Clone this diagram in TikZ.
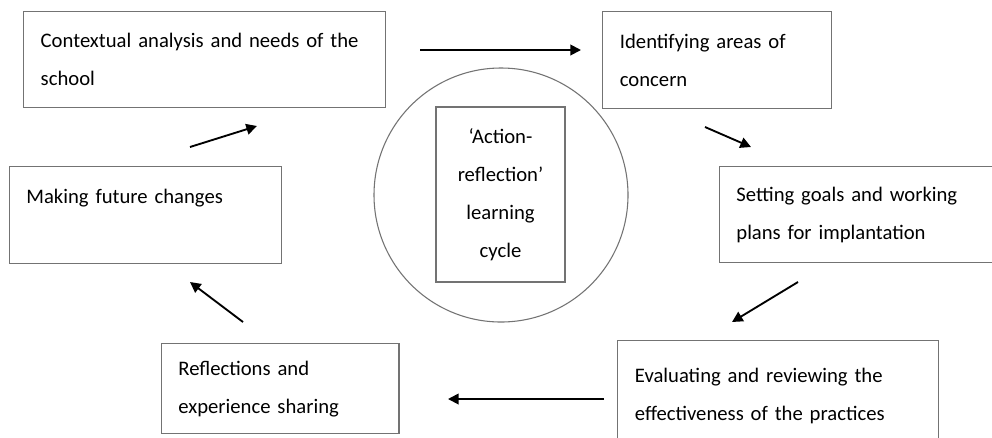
\documentclass[tikz,border=0pt]{standalone}
\usepackage{fontspec}
\setmainfont{Carlito}[WordSpace=0.5]
\usepackage{tikz}
\usetikzlibrary{positioning,arrows.meta}
\usepackage{xcolor}
\colorlet{edgegray}{black!55}
\colorlet{inkgray}{black}
\tikzstyle{stage}=[draw=edgegray,line width=1.1pt,rectangle,anchor=north west,align=left,inner xsep=12.5pt,inner ysep=0pt,text=inkgray,font=\fontsize{15.5}{28.5}\selectfont]
\tikzstyle{step arrow}=[line width=1.4pt,-{Triangle[length=8pt,width=8pt]}]

\begin{document}
\begin{tikzpicture}[x=0.75pt,y=-0.75pt]

	\clip (0,0) rectangle (992,437);
	\fill[white] (0,0) rectangle (992,437);

	% the six stages of the cycle
	\node[stage, minimum width=362*0.75pt, minimum height=96*0.75pt, text width=246pt] (ctx) at (23,11) {Contextual analysis and needs of the\\school};
	\node[stage, minimum width=229*0.75pt, minimum height=97*0.75pt, text width=146pt] (ident) at (602,11) {Identifying areas of\\concern};
	\node[stage, minimum width=300*0.75pt, minimum height=96*0.75pt, text width=200pt] (goals) at (719,166) {Setting goals and working\\plans for implantation};
	\node[stage, minimum width=321*0.75pt, minimum height=110*0.75pt, text width=215pt] (eval) at (617,340) {Evaluating and reviewing the\\effectiveness of the practices};
	\node[stage, minimum width=237*0.75pt, minimum height=90*0.75pt, text width=153pt] (refl) at (161,343) {Reflections and\\experience sharing};
	\node[stage, minimum width=272*0.75pt, minimum height=97*0.75pt, text width=179pt] (chg) at (9,166) {Making future changes\\~};

	% centre of the cycle
	\node[circle, draw=edgegray, line width=0.8pt, minimum size=254*0.75pt, inner sep=0pt] (hub) at (501,195) {};
	\node[stage, anchor=center, align=center, inner xsep=0pt, minimum width=129*0.75pt, minimum height=175*0.75pt, text width=129*0.75pt] (core) at (500.5,194.5) {‘Action-\\reflection’\\learning\\cycle};

	% free ends of the arrows
	\coordinate (a1) at (420,50);   \coordinate (b1) at (581,50);
	\coordinate (a2) at (705,127);  \coordinate (b2) at (751,147);
	\coordinate (a3) at (798,282);  \coordinate (b3) at (732,322);
	\coordinate (a4) at (604,399);  \coordinate (b4) at (448,399);
	\coordinate (a5) at (243,322);  \coordinate (b5) at (190,282);
	\coordinate (a6) at (190,147);  \coordinate (b6) at (257,126);

	\draw[step arrow] (a1) -- (b1);
	\draw[step arrow] (a2) -- (b2);
	\draw[step arrow] (a3) -- (b3);
	\draw[step arrow] (a4) -- (b4);
	\draw[step arrow] (a5) -- (b5);
	\draw[step arrow] (a6) -- (b6);

\end{tikzpicture}
\end{document}
